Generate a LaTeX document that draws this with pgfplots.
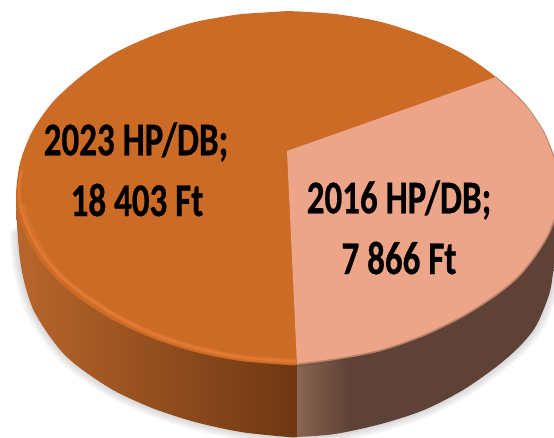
\documentclass[border=0pt]{standalone}
\usepackage{fontspec}
\setmainfont{Carlito}[BoldFeatures={FakeBold=0.6}]
\usepackage{pgfplots}
\pgfplotsset{compat=1.18}
\definecolor{faceorange}{HTML}{CC6B26}
\definecolor{facepink}{HTML}{ECA588}
\definecolor{rimorange}{HTML}{EC8038}
\definecolor{wallA}{HTML}{B8662B}
\definecolor{wallB}{HTML}{6E3713}
\definecolor{wallC}{HTML}{8A6552}
\definecolor{wallD}{HTML}{5F4237}
\pgfdeclarehorizontalshading{rightwall}{100bp}{color(0bp)=(wallC);color(25bp)=(wallC);color(35bp)=(wallD);color(100bp)=(wallD)}
\newcommand{\chartlabel}[3]{\node[font=\fontsize{35}{35}\bfseries\selectfont,inner sep=0pt] at (axis cs:#1,#2) {\scalebox{1}[1.34]{#3}};}

\begin{document}
\begin{tikzpicture}
\useasboundingbox (0,0) rectangle (554pt,438pt);
\begin{axis}[
  at={(0,0)}, anchor=south west,
  width=554pt, height=438pt, scale only axis,
  xmin=0, xmax=554, ymin=0, ymax=438,
  y dir=reverse,
  hide axis,
  clip=true,
]
% soft shadow under the lower rim
\pgfplotsinvokeforeach{16pt,12pt,8pt,4pt}{
  \addplot[smooth, draw=black!55, opacity=0.07, line width=#1, line cap=round] coordinates {
    (18,235) (20,260) (25,285) (33,309) (46,331) (62,352) (80,368) (113,390) (152,408) (195,422) (241,432) (288,437)
    (335,434) (381,424) (424,410) (463,390) (496,367) (519,347) (536,326) (549,295) (553,273)};
}
% side walls
\addplot[smooth, draw=none, shade, left color=wallA, right color=wallB] coordinates {
  (16,200) (17,225) (20,260) (25,285) (33,309) (46,331) (62,352) (80,368) (113,390) (152,408) (195,422) (241,432) (288,437) (297,437)}
  -- (axis cs:297,300) -- cycle;
\addplot[smooth, draw=none, shading=rightwall] coordinates {
  (297,437) (335,434) (381,424) (424,410) (463,390) (496,367) (519,347) (536,326) (549,295) (553,273) (556,240)}
  -- (axis cs:556,200) -- (axis cs:297,300) -- cycle;
% top face
\addplot[smooth, draw=none, fill=faceorange] coordinates {
  (288,11) (335,14) (381,22) (424,36) (463,54) (496,77) (524,103) (544,132) (556,163) (560,195)
  (557,214) (549,235) (536,256) (519,277) (496,296) (463,317) (424,336) (381,351) (335,360) (297,365)
  (288,365) (241,361) (195,352) (152,338) (113,320) (80,299) (57,280) (39,259) (27,238) (19,216) (16,195)
  (20,163) (32,132) (52,103) (80,77) (113,54) (152,36) (195,22) (241,14)} --cycle;
% smaller slice
\addplot[smooth, draw=none, fill=facepink] coordinates {
  (496,77) (524,103) (544,132) (556,163) (560,195)
  (557,214) (549,235) (536,256) (519,277) (496,296) (463,317) (424,336) (381,351) (335,360) (297,365)}
  -- (axis cs:287,151) -- cycle;
% bevel on the rim
\addplot[smooth, draw=rimorange, opacity=0.35, line width=5pt] coordinates {
  (23,205) (26,218) (32,232) (43,253) (60,275) (83,294) (115,315) (154,334) (197,348) (241,357) (288,361) (296,361)};
\addplot[smooth, draw=rimorange, opacity=0.6, line width=2.5pt] coordinates {
  (22,170) (19,190) (22,213) (30,233) (42,254) (60,275) (83,294) (115,315) (154,334) (197,348) (241,357) (288,361) (296,361)};
\addplot[smooth, draw=wallD, opacity=0.35, line width=3pt] coordinates {
  (557,214) (549,235) (536,256) (519,277) (496,296) (463,317) (424,336) (381,351) (335,360) (297,365)};
\addplot[smooth, draw=wallD, opacity=0.3, line width=1pt] coordinates {
  (496,77) (524,103) (544,132) (556,163)};
% labels
\chartlabel{136}{142}{2023 HP/DB;}
\chartlabel{137}{200}{18 403 Ft}
\chartlabel{399}{200}{2016 HP/DB;}
\chartlabel{399}{258}{7 866 Ft}
\end{axis}
\end{tikzpicture}
\end{document}
